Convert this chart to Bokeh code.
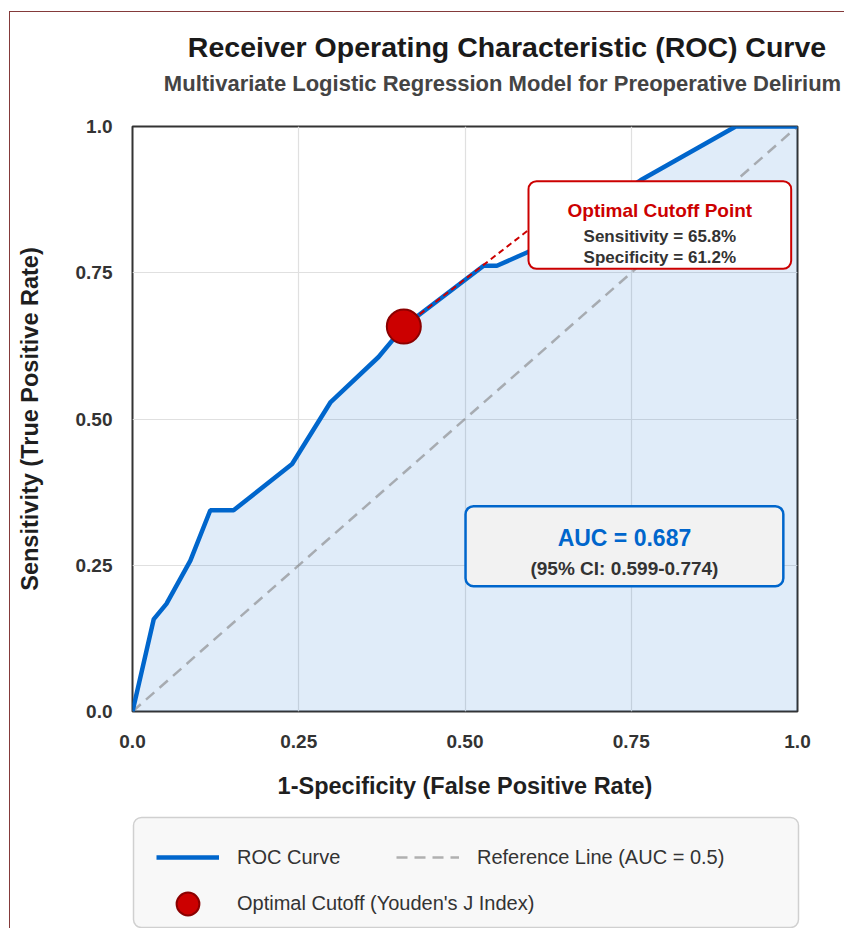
from bokeh.plotting import figure
from bokeh.layouts import column
from bokeh.models import Range1d, FixedTicker, Legend, LegendItem, Label, BoxAnnotation
from bokeh.embed import file_html
from bokeh.resources import INLINE

# ---------------- data ----------------
roc_fpr = [0.0, 0.032, 0.051, 0.087, 0.117, 0.152, 0.240, 0.298, 0.370, 0.408,
           0.528, 0.548, 0.594, 0.764, 0.907, 1.0]
roc_tpr = [0.0, 0.158, 0.184, 0.258, 0.344, 0.344, 0.423, 0.529, 0.606, 0.658,
           0.762, 0.762, 0.785, 0.908, 1.0, 1.0]
ref_x = [0.0, 1.0]
ref_y = [0.0, 1.0]
opt_fpr = [0.408]
opt_tpr = [0.658]
opt_sensitivity = 65.8
opt_specificity = 61.2
auc_value = 0.687
ci_low = 0.599
ci_high = 0.774
tick_values = [0.0, 0.25, 0.5, 0.75, 1.0]
tick_labels = ["0.0", "0.25", "0.50", "0.75", "1.0"]

title_text = "Receiver Operating Characteristic (ROC) Curve"
subtitle_text = "Multivariate Logistic Regression Model for Preoperative Delirium"
legend_labels = ["ROC Curve", "Reference Line (AUC = 0.5)", "Optimal Cutoff (Youden's J Index)"]

FONT = "Liberation Sans"
BLUE = "#0066cc"
RED = "#cc0000"
W = 844
NAN = float("nan")

roc_style = dict(line_color=BLUE, line_width=4.5)
ref_style = dict(line_color="gray", line_alpha=0.6, line_width=2.5, line_dash="11 7")
opt_style = dict(fill_color=RED, line_color="#8b0000", line_width=2)


def blank_fig(h):
    f = figure(width=W, height=h, x_range=Range1d(0, W), y_range=Range1d(0, h),
               output_backend="svg", toolbar_location=None, x_axis_type=None,
               y_axis_type=None, min_border=0)
    f.frame_align = False
    f.outline_line_color = None
    f.background_fill_alpha = 0
    f.border_fill_alpha = 0
    return f


# ---------------- header (titles) ----------------
H0 = 108
p0 = blank_fig(H0)
p0.add_layout(Label(x=506.5, y=H0 - 46.5, text=title_text, text_align="center",
                    text_baseline="alphabetic", text_font=FONT, text_font_size="28.5px",
                    text_font_style="bold", text_color="#1a1a1a"))
p0.add_layout(Label(x=502, y=H0 - 83, text=subtitle_text, text_align="center",
                    text_baseline="alphabetic", text_font=FONT, text_font_size="22px",
                    text_font_style="bold", text_color="#444444"))

# ---------------- main plot ----------------
H1 = 815 - H0
p = figure(width=W, height=H1, x_range=Range1d(0, 1), y_range=Range1d(0, 1),
           output_backend="svg", toolbar_location=None,
           min_border_left=132, min_border_right=47, min_border_top=126 - H0,
           min_border_bottom=104, background_fill_color="white")
p.frame_align = False
p.border_fill_alpha = 0
p.outline_line_color = "#333333"
p.outline_line_width = 2

for ax in (p.xaxis, p.yaxis):
    ax.ticker = FixedTicker(ticks=tick_values)
    ax.major_label_overrides = dict(zip(tick_values, tick_labels))
    ax.axis_line_color = None
    ax.major_tick_line_color = None
    ax.minor_tick_line_color = None
    ax.major_label_text_font = FONT
    ax.major_label_text_font_size = "19px"
    ax.major_label_text_font_style = "bold"
    ax.major_label_text_color = "#333333"
    ax.axis_label_text_font = FONT
    ax.axis_label_text_font_size = "23.5px"
    ax.axis_label_text_font_style = "bold"
    ax.axis_label_text_color = "#1f1f1f"
p.xaxis.axis_label = "1-Specificity (False Positive Rate)"
p.yaxis.axis_label = "Sensitivity (True Positive Rate)"
p.xaxis.major_label_standoff = 17
p.yaxis.major_label_standoff = 14
p.xaxis.axis_label_standoff = 22
p.yaxis.axis_label_standoff = 30

p.grid.ticker = FixedTicker(ticks=tick_values)
p.grid.grid_line_color = "#e0e0e0"
p.grid.grid_line_width = 1.2

p.varea(x=roc_fpr, y1=[0.0] * len(roc_fpr), y2=roc_tpr, fill_color=BLUE, fill_alpha=0.12)
p.line(ref_x, ref_y, **ref_style)
p.line(roc_fpr, roc_tpr, **roc_style)

box_left, box_right, box_top, box_bottom = 0.5955, 0.9905, 0.9065, 0.7568
anno_x, anno_y = box_left, 0.823
p.segment(x0=opt_fpr, y0=opt_tpr, x1=[anno_x], y1=[anno_y], line_color=RED,
          line_width=2, line_dash="6 4")
p.scatter(opt_fpr, opt_tpr, size=34, **opt_style)

p.add_layout(BoxAnnotation(left=box_left, right=box_right, top=box_top, bottom=box_bottom,
                           fill_color="white", fill_alpha=1, line_color=RED, line_alpha=1,
                           line_width=2, border_radius=8))
bx = (box_left + box_right) / 2
p.add_layout(Label(x=bx, y=0.8564, text="Optimal Cutoff Point", text_align="center",
                   text_baseline="middle", text_font=FONT, text_font_size="19px",
                   text_font_style="bold", text_color=RED))
p.add_layout(Label(x=bx, y=0.812, text=f"Sensitivity = {opt_sensitivity:.1f}%", text_align="center",
                   text_baseline="middle", text_font=FONT, text_font_size="17px",
                   text_font_style="bold", text_color="#333333"))
p.add_layout(Label(x=bx, y=0.7766, text=f"Specificity = {opt_specificity:.1f}%", text_align="center",
                   text_baseline="middle", text_font=FONT, text_font_size="17px",
                   text_font_style="bold", text_color="#333333"))

a_left, a_right, a_top, a_bottom = 0.5008, 0.9787, 0.351, 0.214
p.add_layout(BoxAnnotation(left=a_left, right=a_right, top=a_top, bottom=a_bottom,
                           fill_color="#f2f2f2", fill_alpha=1, line_color=BLUE, line_alpha=1,
                           line_width=2.5, border_radius=8))
ax_c = (a_left + a_right) / 2
p.add_layout(Label(x=ax_c, y=0.2969, text=f"AUC = {auc_value:.3f}", text_align="center",
                   text_baseline="middle", text_font=FONT, text_font_size="23px",
                   text_font_style="bold", text_color=BLUE))
p.add_layout(Label(x=ax_c, y=0.244, text=f"(95% CI: {ci_low:.3f}-{ci_high:.3f})", text_align="center",
                   text_baseline="middle", text_font=FONT, text_font_size="19px",
                   text_font_style="bold", text_color="#333333"))

# ---------------- legend strip ----------------
H2 = 113
p2 = blank_fig(H2)
p2.add_layout(BoxAnnotation(left=133, right=798, top=H2 - 2, bottom=1,
                            fill_color="#f8f8f8", fill_alpha=1, line_color="#d0d0d0",
                            line_alpha=1, line_width=1.5, border_radius=8))
# legend proxies (not drawn in the strip: NaN positions)
lg_roc = p2.line([NAN], [NAN], **roc_style)
lg_ref = p2.line([NAN], [NAN], **ref_style)
lg_opt = p2.scatter([NAN], [NAN], size=34, **opt_style)

common = dict(padding=0, spacing=0, margin=0, label_standoff=18, glyph_width=63,
              label_text_font=FONT, label_text_font_size="20px", label_text_color="#333333",
              background_fill_alpha=0, border_line_alpha=0)
leg1 = Legend(items=[LegendItem(label=legend_labels[0], renderers=[lg_roc]),
                     LegendItem(label=legend_labels[1], renderers=[lg_ref])],
              orientation="horizontal", location=(156, 58), glyph_height=26,
              label_height=26, label_width=159, **common)
leg2 = Legend(items=[LegendItem(label=legend_labels[2], renderers=[lg_opt])],
              orientation="horizontal", location=(156, -3.5), glyph_height=57,
              label_height=57, **common)
p2.add_layout(leg1, "center")
p2.add_layout(leg2, "center")

col = column(p0, p, p2, spacing=0)
col.styles = {
    "background-image": "linear-gradient(#843a3a, #843a3a), linear-gradient(#843a3a, #843a3a)",
    "background-size": "1px 100%, 100% 1px",
    "background-position": "9px 11px, 9px 11px",
    "background-repeat": "no-repeat",
}

open("out.html", "w").write(file_html(col, INLINE))
